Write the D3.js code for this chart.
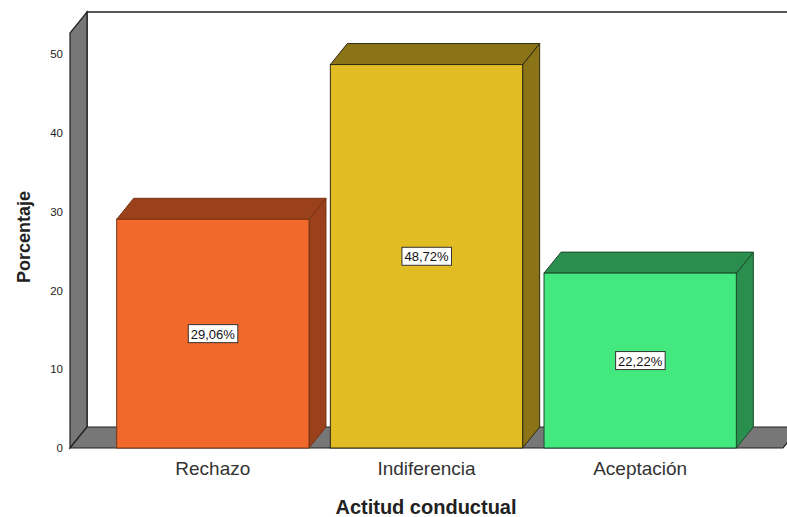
<!DOCTYPE html>
<html><head><meta charset="utf-8">
<script src="https://cdn.jsdelivr.net/npm/d3@7"></script>
<style>body{margin:0;background:#fff}svg{display:block}</style>
</head><body>
<svg id="c" width="787" height="517"></svg>
<script>
const categories = ["Rechazo", "Indiferencia", "Aceptación"];
const values = [29.06, 48.72, 22.22];
const labels = ["29,06%", "48,72%", "22,22%"];
const yTicks = [0, 10, 20, 30, 40, 50];
const frontColors = ["#F2692C", "#E1BC22", "#43E97F"];
const darkColors = ["#9A401B", "#8B7317", "#2A8E4F"];
const strokeColors = ["#7a3414", "#2e2a10", "#1d4a2c"];

const svg = d3.select("#c");
const DX = 17, DY = -21;
const y = d3.scaleLinear().domain([0, 52.73]).range([448, 33]);
const x = d3.scaleBand().domain(categories).range([106, 747]).paddingInner(0.1).paddingOuter(0.05);
const X0 = 70, X1 = 783;
const font = "'Liberation Sans', Arial, sans-serif";

// back wall
svg.append("path")
  .attr("d", `M${X0+DX},${y(0)+DY} L${X0+DX},${y.range()[1]+DY} L${X1+DX},${y.range()[1]+DY} L${X1+DX},${y(0)+DY}`)
  .attr("fill", "#fff").attr("stroke", "#222").attr("stroke-width", 1.5);
// left wall
svg.append("path")
  .attr("d", `M${X0},${y(0)} L${X0},${y.range()[1]} L${X0+DX},${y.range()[1]+DY} L${X0+DX},${y(0)+DY} Z`)
  .attr("fill", "#777").attr("stroke", "#222").attr("stroke-width", 1.2);
// floor
svg.append("path")
  .attr("d", `M${X0},${y(0)} L${X0+DX},${y(0)+DY} L${X1+DX},${y(0)+DY} L${X1},${y(0)} Z`)
  .attr("fill", "#777").attr("stroke", "#222").attr("stroke-width", 1.2);

// bars
const g = svg.append("g");
categories.forEach((c, i) => {
  const x0 = x(c), x1 = x(c) + x.bandwidth();
  const yt = y(values[i]), yb = y(0);
  g.append("path")
    .attr("d", `M${x1},${yb} L${x1},${yt} L${x1+DX},${yt+DY} L${x1+DX},${yb+DY} Z`)
    .attr("fill", darkColors[i]).attr("stroke", strokeColors[i]).attr("stroke-width", 1);
  g.append("path")
    .attr("d", `M${x0},${yt} L${x0+DX},${yt+DY} L${x1+DX},${yt+DY} L${x1},${yt} Z`)
    .attr("fill", darkColors[i]).attr("stroke", strokeColors[i]).attr("stroke-width", 1);
  g.append("rect")
    .attr("x", x0).attr("y", yt).attr("width", x1 - x0).attr("height", yb - yt)
    .attr("fill", frontColors[i]).attr("stroke", strokeColors[i]).attr("stroke-width", 1);
  const cx = (x0 + x1) / 2, cy = (yt + yb) / 2;
  const t = g.append("text").attr("x", cx).attr("y", cy + 5)
    .attr("text-anchor", "middle").attr("font-family", font).attr("font-size", 13)
    .attr("fill", "#111").text(labels[i]);
  const bb = t.node().getBBox();
  g.insert("rect", () => t.node())
    .attr("x", bb.x - 2.5).attr("y", cy - 9).attr("width", bb.width + 5).attr("height", 18)
    .attr("fill", "#fff").attr("stroke", "#333").attr("stroke-width", 1);
});

// y tick labels
svg.append("g").selectAll("text").data(yTicks).join("text")
  .attr("x", 63).attr("y", d => y(d) + 4).attr("text-anchor", "end")
  .attr("font-family", font).attr("font-size", 11.5).attr("fill", "#222")
  .text(d => d);

// x category labels
svg.append("g").selectAll("text").data(categories).join("text")
  .attr("x", d => x(d) + x.bandwidth() / 2).attr("y", 475).attr("text-anchor", "middle")
  .attr("font-family", font).attr("font-size", 19).attr("fill", "#333")
  .text(d => d);

// axis titles
svg.append("text").attr("x", 426).attr("y", 514).attr("text-anchor", "middle")
  .attr("font-family", font).attr("font-size", 20).attr("font-weight", "bold").attr("fill", "#222")
  .text("Actitud conductual");
svg.append("text").attr("transform", "translate(30,237) rotate(-90)").attr("text-anchor", "middle")
  .attr("font-family", font).attr("font-size", 18).attr("font-weight", "bold").attr("fill", "#222")
  .text("Porcentaje");
</script>
</body></html>
